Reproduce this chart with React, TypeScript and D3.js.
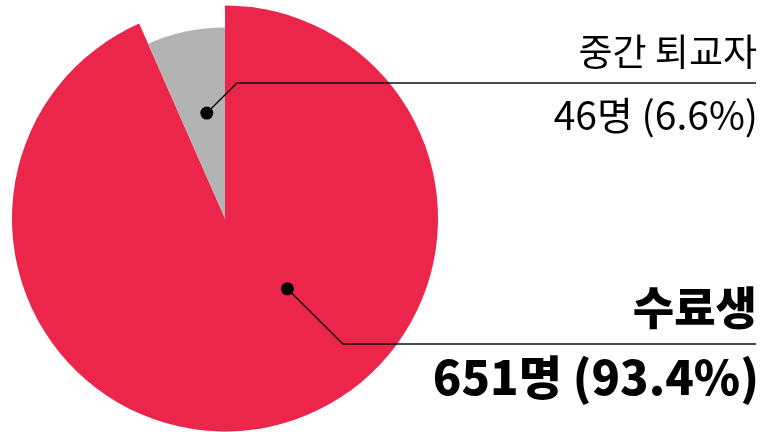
import React from "react";
import * as d3 from "d3";

const categories = ["수료생", "중간 퇴교자"];
const counts = [651, 46];
const percents = ["93.4%", "6.6%"];
const colors = ["#EC264B", "#B3B3B3"];

const W = 765;
const H = 432;

export default function App() {
  const cx = 225;
  const cy = 218.5;
  const pie = d3.pie<number>().sort(null).startAngle(0).endAngle(2 * Math.PI);
  const arcs = pie(counts);
  const outerR = [213, 191];
  const arcGen = d3.arc<d3.PieArcDatum<number>>().innerRadius(0);

  // annotation anchors (angle in degrees clockwise from 12 o'clock, radius)
  const anchors = [
    { ang: 138.4, r: 94, elbowX: 343, lineY: 344, endX: 756 },
    { ang: -9.8, r: 107, elbowX: 237, lineY: 83, endX: 756 },
  ];
  const pt = (ang: number, r: number) => {
    const a = (ang * Math.PI) / 180;
    return [cx + r * Math.sin(a), cy - r * Math.cos(a)];
  };

  return (
    <svg width={W} height={H} style={{ position: "fixed", left: 0, top: 0 }}>
      <g transform={`translate(${cx},${cy})`}>
        {arcs.map((a, i) => (
          <path key={i} d={arcGen.outerRadius(outerR[i])(a) || ""} fill={colors[i]} />
        ))}
      </g>
      {anchors.map((an, i) => {
        const [x, y] = pt(an.ang, an.r);
        return (
          <g key={i}>
            <polyline
              points={`${x},${y} ${an.elbowX},${an.lineY} ${an.endX},${an.lineY}`}
              fill="none"
              stroke="#111"
              strokeWidth={1.5}
            />
            <circle cx={x} cy={y} r={6.5} fill="#000" />
          </g>
        );
      })}
      <g fontFamily="'Noto Sans CJK KR', 'Noto Sans', sans-serif" textAnchor="end" fill="#000">
        <text x={757} y={66} fontSize={37} fontWeight={400}>{categories[1]}</text>
        <text x={758} y={130} fontSize={39} fontWeight={400}>{`${counts[1]}명 (${percents[1]})`}</text>
        <text x={757} y={325} fontSize={45} fontWeight={900}>{categories[0]}</text>
        <text x={759} y={395} fontSize={47} fontWeight={900}>{`${counts[0]}명 (${percents[0]})`}</text>
      </g>
    </svg>
  );
}
